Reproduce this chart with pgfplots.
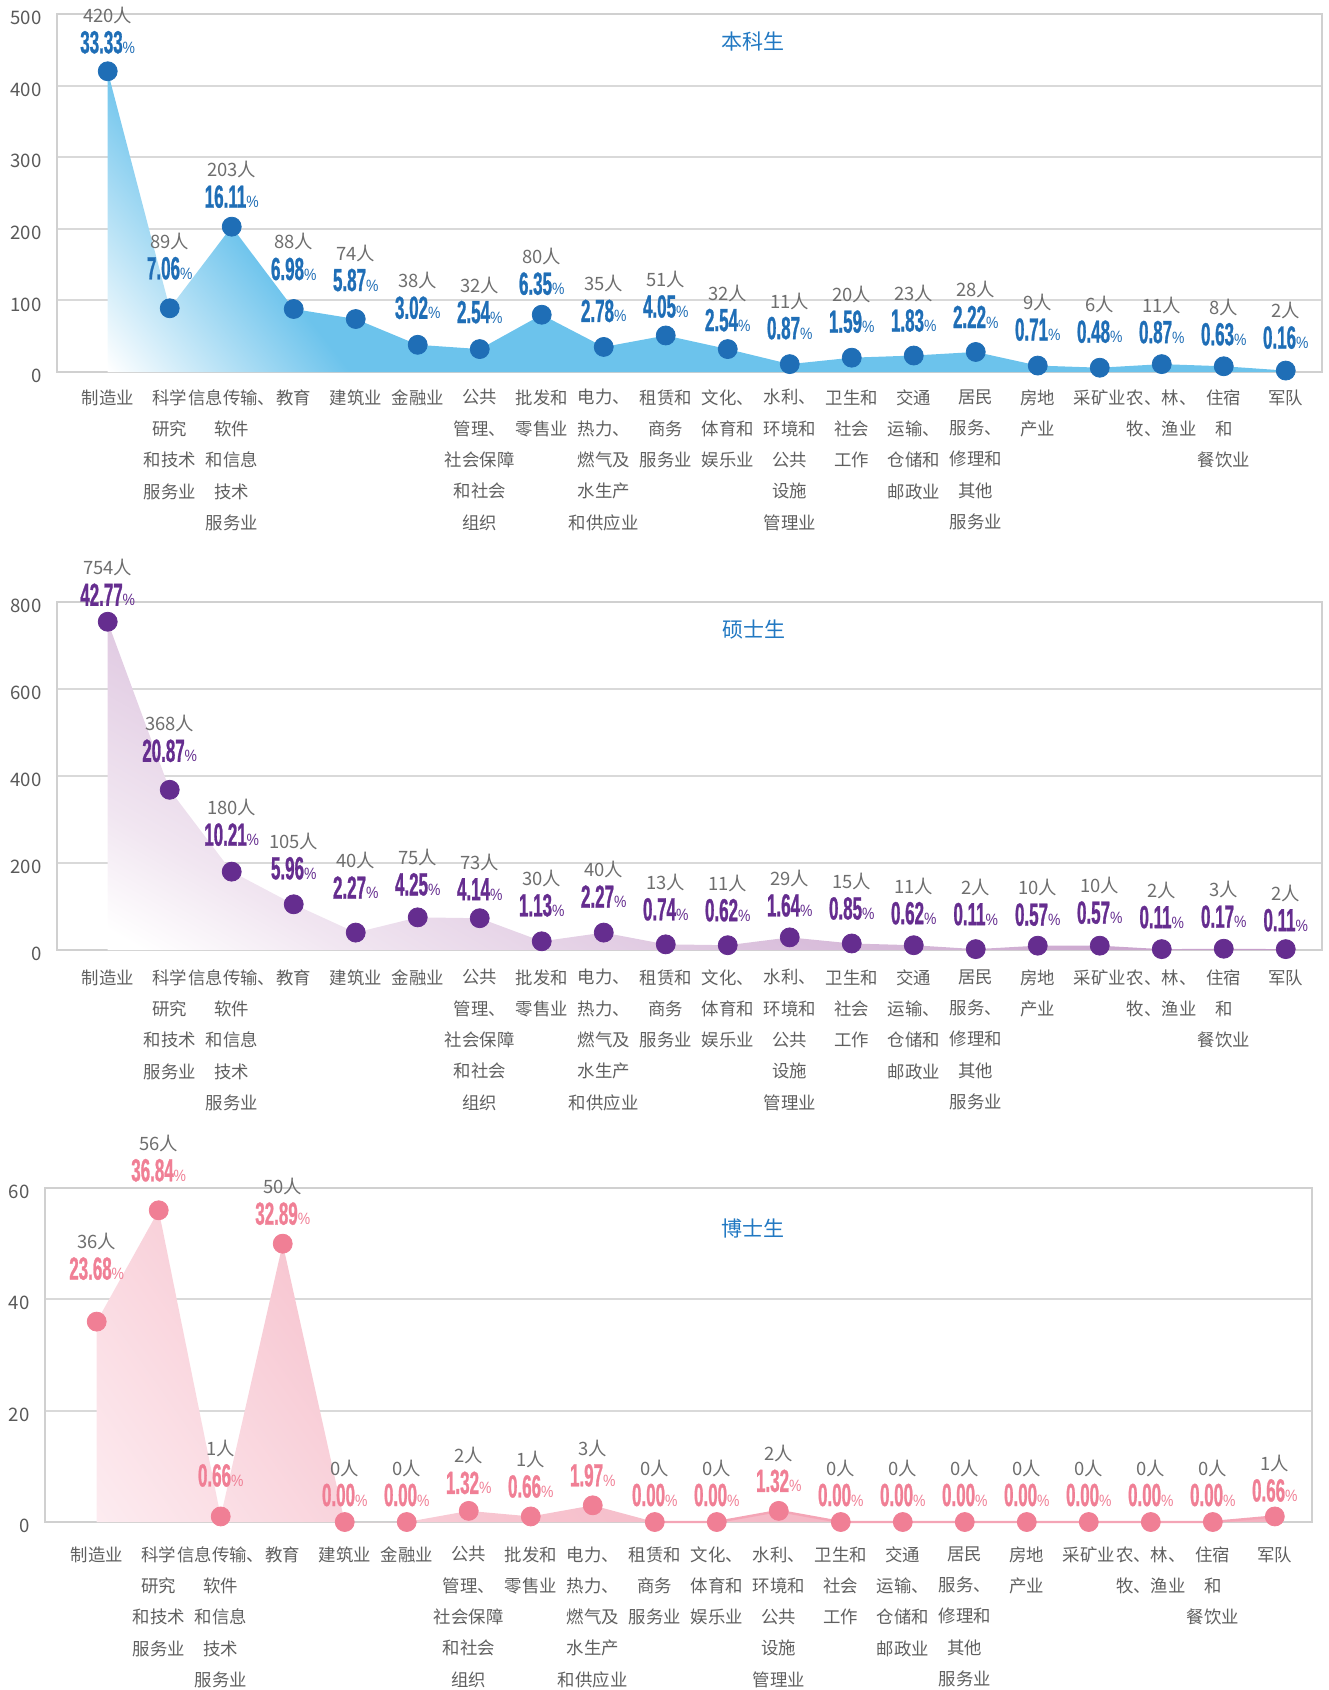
\documentclass[border=0pt]{standalone}
\usepackage{pgfplots}
\usepackage{pgfplotstable}
\pgfplotsset{compat=1.18}
\usepackage{fontspec}
\setmainfont{Noto Sans CJK SC}
\newfontfamily\pctfont[FakeStretch=0.53, FakeBold=0.8]{Liberation Sans Bold}
\newfontfamily\psfont[FakeStretch=0.85]{Liberation Sans}

\definecolor{gridgray}{HTML}{D9D9D9}
\definecolor{framegray}{HTML}{D0D0D0}
\definecolor{ticklab}{HTML}{595959}
\definecolor{catlab}{HTML}{5F5F5F}
\definecolor{cntlab}{HTML}{6E6E6E}
\definecolor{titleblue}{HTML}{2178C2}
\definecolor{dotA}{HTML}{1F6EB6}
\definecolor{fillA}{HTML}{6CC3EC}
\definecolor{dotB}{HTML}{652D8F}
\definecolor{fillBa}{HTML}{F1E6F1}
\definecolor{fillBb}{HTML}{DCC3DE}
\definecolor{fillBc}{HTML}{C59CC9}
\definecolor{dotC}{HTML}{F07F95}
\definecolor{fillCa}{HTML}{FDEEF2}
\definecolor{fillCb}{HTML}{F7C5D0}
\definecolor{fillCc}{HTML}{F4B1C0}
\definecolor{lineC}{HTML}{F4A5B6}

\pgfdeclarehorizontalshading{fadeA}{100bp}{color(0bp)=(white); color(15bp)=(white); color(27bp)=(fillA); color(100bp)=(fillA)}
\pgfdeclarehorizontalshading{fadeB}{100bp}{color(0bp)=(white); color(17bp)=(white); color(25bp)=(fillBa); color(41bp)=(fillBb); color(62bp)=(fillBc); color(100bp)=(fillBc)}
\pgfdeclarehorizontalshading{fadeC}{100bp}{color(0bp)=(fillCa); color(14bp)=(fillCa); color(35bp)=(fillCb); color(60bp)=(fillCc); color(100bp)=(fillCc)}

\pgfplotstableread{
x y cnt pct dy
0 420 420 33.33 29
1 89 89 7.06 40
2 203 203 16.11 30
3 88 88 6.98 40
4 74 74 5.87 39
5 38 38 3.02 37
6 32 32 2.54 37
7 80 80 6.35 31
8 35 35 2.78 36
9 51 51 4.05 29
10 32 32 2.54 29
11 11 11 0.87 36
12 20 20 1.59 36
13 23 23 1.83 35
14 28 28 2.22 35
15 9 9 0.71 36
16 6 6 0.48 36
17 11 11 0.87 32
18 8 8 0.63 32
19 2 2 0.16 33
}\tA

\pgfplotstableread{
x y cnt pct dy
0 754 754 42.77 27
1 368 368 20.87 39
2 180 180 10.21 37
3 105 105 5.96 36
4 40 40 2.27 45
5 75 75 4.25 33
6 73 73 4.14 29
7 20 30 1.13 36
8 40 40 2.27 36
9 13 13 0.74 35
10 11 11 0.62 35
11 29 29 1.64 32
12 15 15 0.85 35
13 11 11 0.62 32
14 2 2 0.11 35
15 10 10 0.57 31
16 10 10 0.57 33
17 2 2 0.11 32
18 3 3 0.17 32
19 2 2 0.11 29
}\tB

\pgfplotstableread{
x y cnt pct dy
0 36 36 23.68 53
1 56 56 36.84 40
2 1 1 0.66 41
3 50 50 32.89 30
4 0 0 0.00 27
5 0 0 0.00 27
6 2 2 1.32 28
7 1 1 0.66 30
8 3 3 1.97 30
9 0 0 0.00 27
10 0 0 0.00 27
11 2 2 1.32 30
12 0 0 0.00 27
13 0 0 0.00 27
14 0 0 0.00 27
15 0 0 0.00 27
16 0 0 0.00 27
17 0 0 0.00 27
18 0 0 0.00 27
19 1 1 0.66 26
}\tC

\pgfplotsset{
  panel/.style={
    scale only axis, clip=false,
    axis line style={draw=framegray, line width=1.2pt},
    ymajorgrids, major grid style={draw=gridgray, line width=1pt},
    major tick length=0pt, minor tick length=0pt,
    xtick={0,...,19},
    xticklabels={{制造业},{科学\\研究\\和技术\\服务业},{信息传输、\\软件\\和信息\\技术\\服务业},{教育},{建筑业},{金融业},{公共\\管理、\\社会保障\\和社会\\组织},{批发和\\零售业},{电力、\\热力、\\燃气及\\水生产\\和供应业},{租赁和\\商务\\服务业},{文化、\\体育和\\娱乐业},{水利、\\环境和\\公共\\设施\\管理业},{卫生和\\社会\\工作},{交通\\运输、\\仓储和\\邮政业},{居民\\服务、\\修理和\\其他\\服务业},{房地\\产业},{采矿业},{农、林、\\牧、渔业},{住宿\\和\\餐饮业},{军队}},
    xticklabel style={anchor=north, inner sep=0pt, align=center, text=catlab, font=\fontsize{8.7}{15.65}\selectfont},
    yticklabel style={anchor=east, inner sep=0pt, xshift=-7.5pt, yshift=-2pt, text=ticklab, font=\fontsize{9.3}{11}\selectfont},
    /pgf/number format/assume math mode=true,
  },
  pctnodes/.style={
    point meta=explicit symbolic,
    visualization depends on={\thisrow{dy}\as\dy},
    nodes near coords={\textcolor{#1}{{\pctfont\fontsize{16}{17}\selectfont\pgfplotspointmeta}{\psfont\fontsize{8.2}{9}\selectfont\%}}},
    every node near coord/.style={anchor=center, inner sep=0pt, yshift={\dy*0.5pt}},
  },
  cntnodes/.style={
    draw=none, mark=none,
    point meta=explicit symbolic,
    visualization depends on={\thisrow{dy}\as\dy},
    nodes near coords={\textcolor{cntlab}{\fontsize{9.2}{10}\selectfont\pgfplotspointmeta 人}},
    every node near coord/.style={anchor=center, inner sep=0pt, yshift={(\dy+27)*0.5pt}},
  },
}

\begin{document}
\begin{tikzpicture}
\useasboundingbox (0,0) rectangle (664pt,-845pt);

% ---------- Panel 1 ----------
\begin{axis}[panel, at={(28.5pt,-186pt)}, anchor=south west,
  width=632.5pt, height=179pt,
  xmin=-0.818, xmax=19.585, ymin=0, ymax=500, ytick={0,100,200,300,400,500},
  xticklabel style={yshift=-8.5pt}]
\addplot[draw=none, shading=fadeA, shading angle=38] table[x=x,y=y]{\tA} \closedcycle;
\addplot[only marks, mark=*, mark size=4.75pt, color=dotA, pctnodes=dotA] table[x=x,y=y,meta=pct]{\tA};
\addplot[cntnodes] table[x=x,y=y,meta=cnt]{\tA};
\end{axis}

% ---------- Panel 2 ----------
\begin{axis}[panel, at={(28.5pt,-475pt)}, anchor=south west,
  width=632.5pt, height=174.15pt,
  xmin=-0.818, xmax=19.585, ymin=0, ymax=800, ytick={0,200,400,600,800},
  xticklabel style={yshift=-9.5pt}]
\addplot[draw=none, shading=fadeB, shading angle=60] table[x=x,y=y]{\tB} \closedcycle;
\addplot[only marks, mark=*, mark size=4.75pt, color=dotB, pctnodes=dotB] table[x=x,y=y,meta=pct]{\tB};
\addplot[cntnodes] table[x=x,y=y,meta=cnt]{\tB};
\end{axis}

% ---------- Panel 3 ----------
\begin{axis}[panel, at={(22.5pt,-761pt)}, anchor=south west,
  width=633.5pt, height=167pt,
  xmin=-0.834, xmax=19.6, ymin=0, ymax=60, ytick={0,20,40,60},
  xticklabel style={yshift=-12pt}]
\addplot[draw=none, shading=fadeC, shading angle=35] table[x=x,y=y]{\tC} \closedcycle;
\addplot[lineC, line width=1.2pt, mark=none, restrict x to domain=9:19] table[x=x,y=y]{\tC};
\addplot[only marks, mark=*, mark size=4.75pt, color=dotC, pctnodes=dotC] table[x=x,y=y,meta=pct]{\tC};
\addplot[cntnodes] table[x=x,y=y,meta=cnt]{\tC};
\end{axis}

\node[text=titleblue, font=\fontsize{10.5}{12}\selectfont] at (376.5pt,-21pt) {本科生};
\node[text=titleblue, font=\fontsize{10.5}{12}\selectfont] at (376.75pt,-314.75pt) {硕士生};
\node[text=titleblue, font=\fontsize{10.5}{12}\selectfont] at (376.5pt,-614pt) {博士生};
\end{tikzpicture}
\end{document}
